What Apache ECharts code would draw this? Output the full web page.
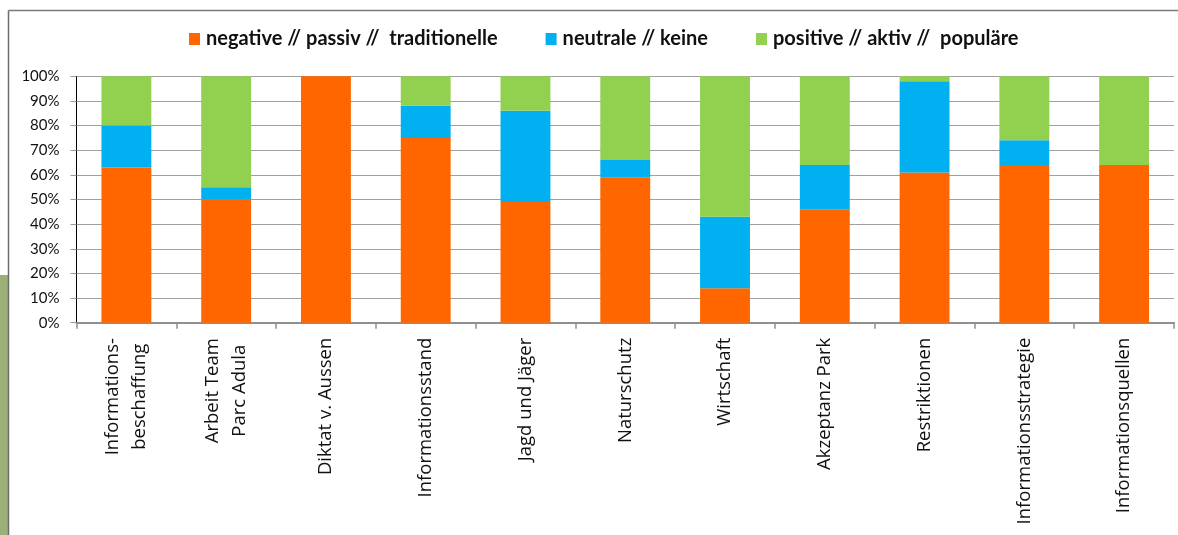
<!DOCTYPE html>
<html>
<head>
<meta charset="utf-8">
<script src="https://cdn.jsdelivr.net/npm/echarts@6/dist/echarts.min.js"></script>
<style>
  html, body { margin: 0; padding: 0; background: #fff; }
  #chart { width: 1178px; height: 535px; }
</style>
</head>
<body>
<div id="chart"></div>
<script>
// Survey answers per topic, as shares of respondents (percent)
const categories = [
  'Informations-\nbeschaffung',
  'Arbeit Team\nParc Adula',
  'Diktat v. Aussen',
  'Informationsstand',
  'Jagd und Jäger',
  'Naturschutz',
  'Wirtschaft',
  'Akzeptanz Park',
  'Restriktionen',
  'Informationsstrategie',
  'Informationsquellen'
];
const seriesNames = [
  'negative // passiv //  traditionelle',
  'neutrale // keine',
  'positive // aktiv //  populäre'
];
const negativeValues = [63, 50, 100, 75, 49, 59, 14, 46, 61, 64, 64];
const neutralValues  = [17,  5,   0, 13, 37,  7, 29, 18, 37, 10,  0];
const positiveValues = [20, 45,   0, 12, 14, 34, 57, 36,  2, 26, 36];
const yTicks = [0, 10, 20, 30, 40, 50, 60, 70, 80, 90, 100];

const colors = ['#FF6600', '#00B0F0', '#92D050'];
const catFontFamily = '"Open Sans"';
const catFontSize = 18.5;
const catFont = catFontSize + 'px ' + catFontFamily;

// width of the longest line of a label, used to centre the lines of wrapped labels
const measureCtx = document.createElement('canvas').getContext('2d');
function maxLineWidth(text) {
  measureCtx.font = catFont;
  return Math.max.apply(null, text.split('\n').map(l => measureCtx.measureText(l).width));
}

const chart = echarts.init(document.getElementById('chart'), null, { renderer: 'canvas' });

function build() {
  const series = [negativeValues, neutralValues, positiveValues].map((vals, i) => ({
    name: seriesNames[i],
    type: 'bar',
    stack: 'total',
    barWidth: '50%',
    data: vals,
    itemStyle: { color: colors[i] }
  }));

  const rich = {};
  categories.filter(c => c.indexOf('\n') >= 0).forEach(c => {
    const w = Math.ceil(maxLineWidth(c));
    rich['c' + w] = { width: w, align: 'center', fontFamily: catFontFamily, fontSize: catFontSize, lineHeight: 27, color: '#111' };
  });

  chart.setOption({
    animation: false,
    graphic: [
      { type: 'rect', shape: { x: 0, y: 275, width: 8, height: 260 }, style: { fill: '#9BAF76' }, z: 0 },
      { type: 'line', shape: { x1: 8.5, y1: 10.5, x2: 8.5, y2: 535 }, style: { stroke: '#6e6e6e', lineWidth: 1.5 }, z: 1 },
      { type: 'line', shape: { x1: 8.5, y1: 10.5, x2: 1178, y2: 10.5 }, style: { stroke: '#7a7a7a', lineWidth: 1.5 }, z: 1 }
    ],
    legend: {
      left: 189,
      top: 29,
      padding: 0,
      icon: 'rect',
      itemWidth: 11,
      itemHeight: 12,
      itemGap: 48,
      textStyle: { fontFamily: 'Lato', fontWeight: 'bold', fontSize: 20, color: '#111', padding: [0, 0, 0, 1] },
      data: seriesNames
    },
    grid: { left: 76.5, right: 4, top: 76.3, bottom: 212.3, containLabel: false },
    xAxis: {
      type: 'category',
      data: categories,
      axisLine: { show: true, lineStyle: { color: '#8f8f8f', width: 2 } },
      axisTick: { show: true, alignWithLabel: false, length: 6, lineStyle: { color: '#8f8f8f', width: 1.5 } },
      axisLabel: {
        interval: 0,
        rotate: 90,
        margin: 15,
        fontFamily: catFontFamily,
        fontSize: catFontSize,
        lineHeight: 27,
        color: '#111',
        formatter: function (value) {
          if (value.indexOf('\n') < 0) return value;
          const w = Math.ceil(maxLineWidth(value));
          return value.split('\n').map(l => '{c' + w + '|' + l + '}').join('\n');
        },
        rich: rich
      }
    },
    yAxis: {
      type: 'value',
      min: yTicks[0],
      max: yTicks[yTicks.length - 1],
      interval: yTicks[1] - yTicks[0],
      axisLine: { show: true, lineStyle: { color: '#000', width: 1 } },
      axisTick: { show: true, length: 6, lineStyle: { color: '#999' } },
      axisLabel: {
        margin: 17,
        fontFamily: 'Lato',
        fontSize: 15,
        color: '#111',
        formatter: '{value}%'
      },
      splitLine: { show: true, lineStyle: { color: '#a0a0a0', width: 1.2 } }
    },
    series: series
  });
}

if (document.fonts && document.fonts.load) {
  Promise.all([
    document.fonts.load(catFont),
    document.fonts.load('bold 20px Lato'),
    document.fonts.load('15px Lato')
  ]).then(build, build);
} else {
  build();
}
</script>
</body>
</html>
